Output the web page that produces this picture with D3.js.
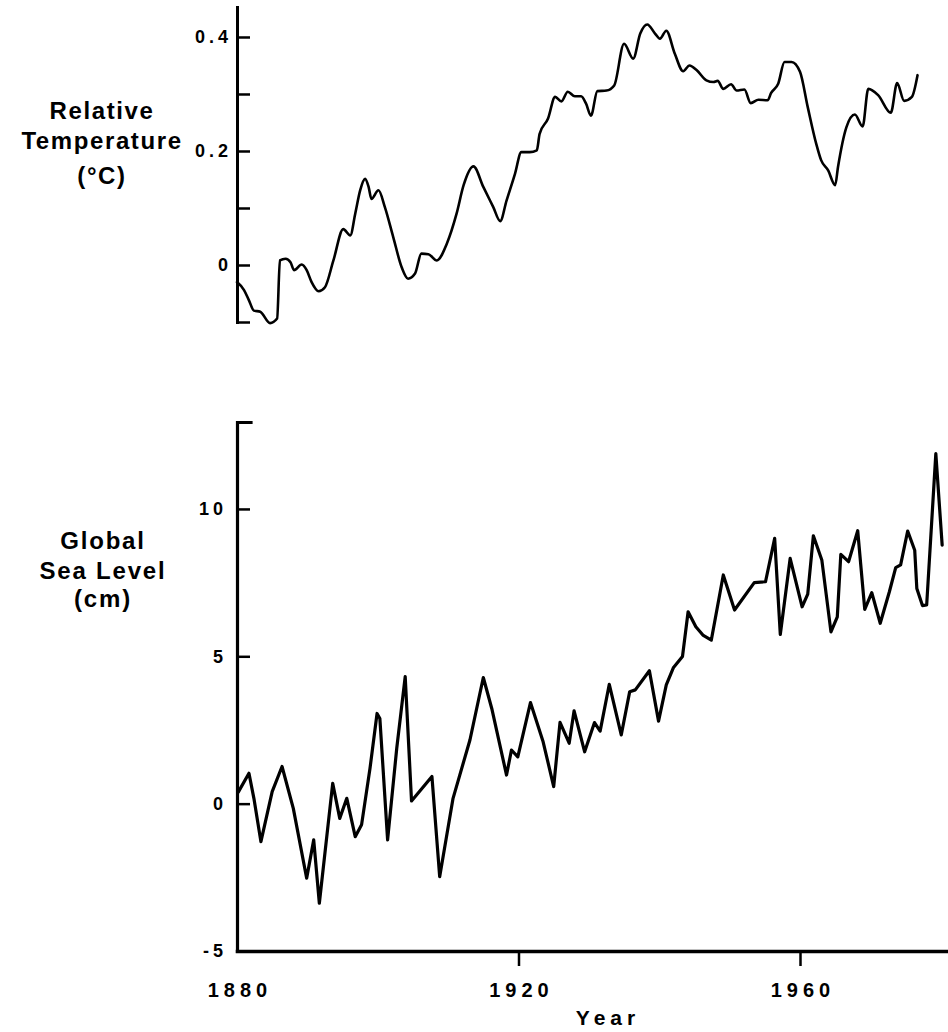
<!DOCTYPE html>
<html>
<head>
<meta charset="utf-8">
<script src="https://cdn.jsdelivr.net/npm/d3@7/dist/d3.min.js"></script>
<style>
  html, body { margin: 0; padding: 0; background: #fff; }
  svg { display: block; }
  text { font-family: "Liberation Sans", Arial, Helvetica, sans-serif; fill: #000; }
</style>
</head>
<body>
<svg id="chart" width="948" height="1032"></svg>
<script>
// ---- Data ----
const tempYears = [1880.0,1881.0,1881.7,1882.4,1883.3,1884.7,1885.7,1886.1,1886.9,1887.6,1888.1,1889.2,1889.9,1890.6,1891.6,1892.5,1893.7,1895.1,1896.1,1896.8,1897.5,1898.2,1898.7,1899.1,1900.1,1901.0,1902.2,1903.4,1904.3,1905.3,1906.2,1907.2,1908.4,1909.8,1911.2,1912.2,1913.6,1915.0,1916.4,1917.4,1918.3,1919.5,1920.4,1921.6,1922.6,1923.0,1924.2,1925.2,1926.1,1927.0,1928.0,1928.9,1929.6,1930.3,1931.2,1932.5,1933.6,1935.0,1936.3,1937.3,1938.3,1939.4,1940.1,1941.0,1942.2,1943.4,1944.3,1945.3,1946.7,1947.7,1948.3,1949.1,1950.2,1951.0,1952.1,1953.0,1954.1,1955.4,1955.9,1956.9,1957.8,1958.8,1960.0,1961.1,1962.3,1963.0,1964.0,1965.0,1965.4,1966.6,1967.8,1968.9,1969.7,1971.1,1972.9,1973.8,1974.8,1975.9,1976.7];
const tempValues = [-0.030,-0.044,-0.062,-0.080,-0.082,-0.102,-0.094,0.008,0.011,0.005,-0.009,0.001,-0.009,-0.030,-0.046,-0.039,0.008,0.063,0.052,0.090,0.131,0.151,0.137,0.116,0.131,0.102,0.049,-0.004,-0.024,-0.015,0.020,0.019,0.008,0.037,0.090,0.140,0.173,0.137,0.102,0.077,0.113,0.160,0.198,0.198,0.201,0.230,0.257,0.295,0.287,0.304,0.296,0.296,0.283,0.262,0.305,0.306,0.315,0.388,0.362,0.406,0.422,0.406,0.397,0.411,0.371,0.340,0.350,0.342,0.324,0.321,0.323,0.309,0.317,0.306,0.308,0.284,0.290,0.289,0.302,0.318,0.356,0.356,0.339,0.277,0.213,0.184,0.166,0.140,0.172,0.242,0.264,0.243,0.309,0.298,0.267,0.319,0.288,0.295,0.333];

const seaYears = [1880.2,1881.7,1882.4,1883.4,1885.0,1886.4,1888.0,1889.9,1890.9,1891.7,1893.6,1894.6,1895.6,1896.8,1897.7,1898.9,1899.9,1900.3,1901.4,1902.7,1903.9,1904.8,1907.7,1908.8,1910.7,1913.1,1915.0,1916.2,1918.3,1919.0,1919.9,1921.7,1923.5,1925.0,1925.9,1927.2,1927.9,1929.4,1930.8,1931.6,1932.9,1934.6,1935.8,1936.6,1938.6,1939.9,1941.0,1942.0,1943.3,1944.1,1945.2,1946.2,1947.4,1949.1,1950.7,1953.5,1955.1,1956.4,1957.2,1958.6,1960.3,1961.1,1961.9,1963.1,1964.4,1965.3,1965.8,1966.9,1968.2,1969.2,1970.2,1971.4,1972.7,1973.6,1974.3,1975.3,1976.3,1976.6,1977.4,1978.0,1979.3,1980.2];
const seaValues = [0.40,1.03,0.18,-1.29,0.41,1.26,-0.16,-2.53,-1.23,-3.38,0.69,-0.50,0.18,-1.12,-0.72,1.20,3.06,2.89,-1.23,1.88,4.31,0.09,0.92,-2.48,0.18,2.16,4.28,3.23,0.97,1.82,1.59,3.43,2.10,0.58,2.76,2.05,3.15,1.76,2.75,2.46,4.05,2.33,3.80,3.86,4.51,2.80,4.03,4.61,4.99,6.51,6.00,5.72,5.55,7.76,6.57,7.50,7.53,9.00,5.74,8.32,6.68,7.11,9.09,8.27,5.83,6.34,8.46,8.21,9.26,6.59,7.16,6.12,7.19,8.01,8.10,9.25,8.60,7.30,6.72,6.74,11.88,8.77];

const yearTicks = [1880, 1920, 1960];
const tempTicks = [-0.1, 0, 0.1, 0.2, 0.3, 0.4];
const tempTickLabels = ["", "0", "", "0.2", "", "0.4"];
const seaTicks = [-5, 0, 5, 10];
const seaTickLabels = ["-5", "0", "5", "10"];
const tempTitle = ["Relative", "Temperature", "(°C)"];
const seaTitle = ["Global", "Sea Level", "(cm)"];
const xTitle = "Year";

// ---- Scales ----
const svg = d3.select("#chart");
const x = d3.scaleLinear().domain([1880, 1960]).range([237, 800]);
const xAxisScale = x.copy().domain([1880, x.invert(948)]).range([237, 948]);
const yT = d3.scaleLinear().domain([-0.1, 0.4526]).range([322, 7]);
const yS = d3.scaleLinear().domain([-5, 12.95]).range([951, 422]);

function styleAxis(g, domainW, tickW) {
  g.select(".domain").attr("stroke", "#000").attr("stroke-width", domainW).attr("stroke-linecap", "square");
  g.selectAll(".tick line").attr("stroke", "#000").attr("stroke-width", tickW);
}

// ---- Top panel: temperature ----
const gT = svg.append("g").attr("transform", "translate(237,0)")
  .call(d3.axisLeft(yT).tickValues(tempTicks).tickSize(-13).tickSizeOuter(0).tickPadding(5)
    .tickFormat((d, i) => tempTickLabels[i]));
styleAxis(gT, 3, 2.5);
gT.selectAll(".tick text").attr("font-size", 18).attr("font-weight", "bold")
  .attr("letter-spacing", "4px").attr("font-family", null);

svg.append("path")
  .datum(tempYears.map((t, i) => [t, tempValues[i]]))
  .attr("fill", "none").attr("stroke", "#000").attr("stroke-width", 2.6)
  .attr("stroke-linejoin", "round").attr("stroke-linecap", "round")
  .attr("d", d3.line().x(d => x(d[0])).y(d => yT(d[1])).curve(d3.curveMonotoneX));

const tT = svg.append("text").attr("text-anchor", "middle")
  .attr("font-size", 24).attr("font-weight", "bold").attr("letter-spacing", "1.6px");
[119, 149, 184].forEach((yy, i) => {
  tT.append("tspan").attr("x", 102).attr("y", yy).text(tempTitle[i]);
});

// ---- Bottom panel: sea level ----
const gS = svg.append("g").attr("transform", "translate(237,0)")
  .call(d3.axisLeft(yS).tickValues(seaTicks).tickSize(-13).tickSizeOuter(-14).tickPadding(10)
    .tickFormat((d, i) => seaTickLabels[i]));
styleAxis(gS, 3.2, 2.5);
gS.selectAll(".tick text").attr("font-size", 18).attr("font-weight", "bold")
  .attr("letter-spacing", "4px").attr("font-family", null);

const gX = svg.append("g").attr("transform", "translate(0,951)")
  .call(d3.axisBottom(xAxisScale).tickValues(yearTicks).tickSize(15).tickSizeOuter(0).tickPadding(17)
    .tickFormat(d3.format("d")));
styleAxis(gX, 3.5, 2.5);
gX.selectAll(".tick").filter(d => d === 1880).select("line").remove();
gX.selectAll(".tick text").attr("font-size", 20).attr("font-weight", "bold")
  .attr("letter-spacing", "5px").attr("dx", "2.5").attr("font-family", null);

svg.append("path")
  .datum(seaYears.map((t, i) => [t, seaValues[i]]))
  .attr("fill", "none").attr("stroke", "#000").attr("stroke-width", 3.2)
  .attr("stroke-linejoin", "round").attr("stroke-linecap", "round")
  .attr("d", d3.line().x(d => x(d[0])).y(d => yS(d[1])));

const tS = svg.append("text").attr("text-anchor", "middle")
  .attr("font-size", 24).attr("font-weight", "bold").attr("letter-spacing", "1.8px");
[549, 579, 607].forEach((yy, i) => {
  tS.append("tspan").attr("x", 103).attr("y", yy).text(seaTitle[i]);
});

svg.append("text").attr("x", 608).attr("y", 1025).attr("text-anchor", "middle")
  .attr("font-size", 21).attr("font-weight", "bold").attr("letter-spacing", "5px")
  .text(xTitle);
</script>
</body>
</html>
